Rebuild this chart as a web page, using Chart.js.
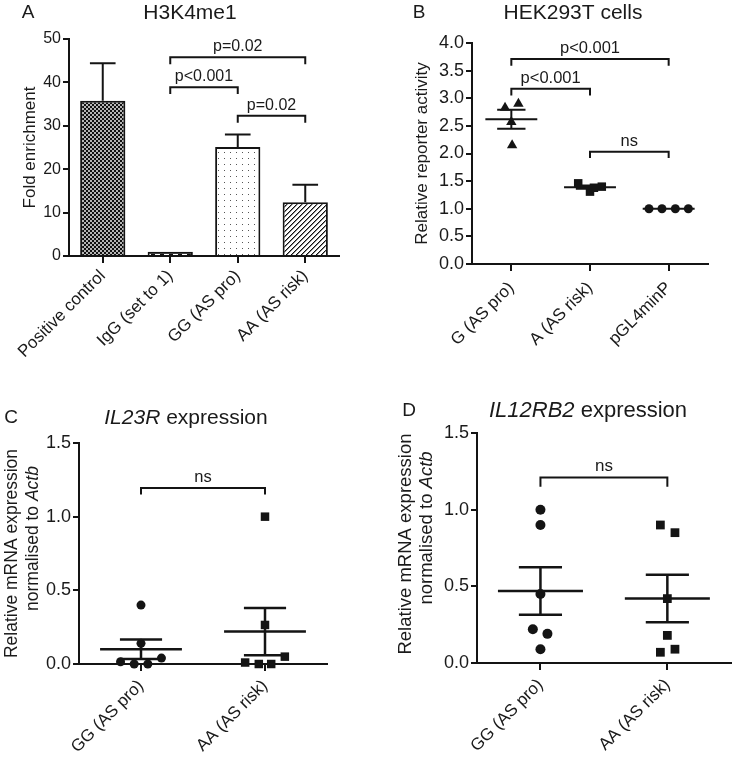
<!DOCTYPE html>
<html>
<head>
<meta charset="utf-8">
<script src="https://cdn.jsdelivr.net/npm/chart.js@4.4.0/dist/chart.umd.min.js"></script>
<style>
  body { margin: 0; background: #fff; }
  #wrap { position: relative; width: 737px; height: 757px; }
  canvas { position: absolute; }
</style>
</head>
<body>
<div id="wrap">
  <canvas id="chartA" width="370" height="380" style="left:0;top:0"></canvas>
  <canvas id="chartB" width="367" height="380" style="left:370px;top:0"></canvas>
  <canvas id="chartC" width="370" height="377" style="left:0;top:380px"></canvas>
  <canvas id="chartD" width="367" height="377" style="left:370px;top:380px"></canvas>
</div>
<script>
// A - H3K4me1 fold enrichment (bars + upper SEM)
var aLabels = ['Positive control', 'IgG (set to 1)', 'GG (AS pro)', 'AA (AS risk)'];
var aValues = [35.8, 1, 25.1, 12.4];
var aSem = [8.6, 0, 2.9, 4.0];
var aTicks = ['0', '10', '20', '30', '40', '50'];
var aBrackets = [[1, 3, 45.8, 44.2, 'p=0.02'], [1, 2, 38.9, 37.3, 'p<0.001'], [2, 3, 32.3, 30.7, 'p=0.02']];

// B - HEK293T reporter activity
var bLabels = ['G (AS pro)', 'A (AS risk)', 'pGL4minP'];
var bG = [2.83, 2.90, 2.57, 2.15];
var bGx = [-0.08, 0.09, 0, 0.01];
var bA = [1.46, 1.31, 1.40, 1.38];
var bAx = [-0.15, 0, 0.15, 0.05];
var bP = [1, 1, 1, 1];
var bPx = [-0.25, -0.085, 0.085, 0.25];
var bMean = [2.62, 1.39, 1.0];
var bSem = [0.17, 0.03, 0];
var bTicks = ['0.0', '0.5', '1.0', '1.5', '2.0', '2.5', '3.0', '3.5', '4.0'];
var bBrackets = [[0, 2, 3.71, 3.59, 'p<0.001'], [0, 1, 3.17, 3.05, 'p<0.001'], [1, 2, 2.03, 1.92, 'ns']];

// C - IL23R expression
var cLabels = ['GG (AS pro)', 'AA (AS risk)'];
var cGG = [0.40, 0.14, 0.015, 0, 0, 0.04];
var cGGx = [0, 0, -0.165, -0.055, 0.055, 0.165];
var cAA = [1.0, 0.265, 0.05, 0.01, 0, 0];
var cAAx = [0, 0, 0.16, -0.16, -0.05, 0.05];
var cMean = [0.10, 0.22];
var cSem = [0.066, 0.16];
var cTicks = ['0.0', '0.5', '1.0', '1.5'];
var cBrackets = [[0, 1, 1.195, 1.15, 'ns']];

// D - IL12RB2 expression
var dLabels = ['GG (AS pro)', 'AA (AS risk)'];
var dGG = [1.0, 0.9, 0.45, 0.22, 0.19, 0.09];
var dGGx = [0, 0, 0, -0.06, 0.055, 0];
var dAA = [0.9, 0.85, 0.42, 0.18, 0.07, 0.09];
var dAAx = [-0.055, 0.06, 0, 0, -0.055, 0.06];
var dMean = [0.47, 0.42];
var dSem = [0.155, 0.155];
var dTicks = ['0.0', '0.5', '1.0', '1.5'];
var dBrackets = [[0, 1, 1.21, 1.15, 'ns']];

Chart.defaults.font.family = '"Liberation Sans", Arial, Helvetica, sans-serif';
Chart.defaults.color = '#1a1a1a';
var ink = '#141414';
var FONT = '"Liberation Sans", Arial, Helvetica, sans-serif';

function pattern(canvasId, w, h, paint) {
  var c = document.createElement('canvas');
  c.width = w; c.height = h;
  paint(c.getContext('2d'));
  return document.getElementById(canvasId).getContext('2d').createPattern(c, 'repeat');
}

function drawRuns(ctx, runs, size, cx, cy, rot) {
  ctx.save();
  ctx.translate(cx, cy);
  ctx.rotate(rot || 0);
  ctx.textBaseline = 'middle';
  ctx.textAlign = 'left';
  var total = 0;
  runs.forEach(function (r) {
    ctx.font = (r[1] ? 'italic ' : '') + size + 'px ' + FONT;
    total += ctx.measureText(r[0]).width;
  });
  var x = -total / 2;
  runs.forEach(function (r) {
    ctx.font = (r[1] ? 'italic ' : '') + size + 'px ' + FONT;
    ctx.fillText(r[0], x, 0);
    x += ctx.measureText(r[0]).width;
  });
  ctx.restore();
}

// letter, title and (for C/D) the two-line y title with italic gene names
var panelText = {
  id: 'panelText',
  afterDraw: function (chart, args, o) {
    var ctx = chart.ctx;
    ctx.fillStyle = '#1a1a1a';
    drawRuns(ctx, [[o.letter, false]], 19, o.letterX, o.titleY);
    drawRuns(ctx, o.title, o.titleSize, o.titleX, o.titleY);
    var mid = (chart.chartArea.top + chart.chartArea.bottom) / 2;
    (o.yTitle || []).forEach(function (line, i) {
      drawRuns(ctx, line, o.yTitleSize, o.yTitleX[i], mid + o.yTitleShift[i], -Math.PI / 2);
    });
  }
};

// mean / SEM lines and significance brackets
var groupMarks = {
  id: 'groupMarks',
  afterDatasetsDraw: function (chart, args, o) {
    var ctx = chart.ctx, xs = chart.scales.x, ys = chart.scales.y;
    var step = xs.getPixelForValue(1) - xs.getPixelForValue(0);
    ctx.save();
    ctx.strokeStyle = ink;
    ctx.lineWidth = o.lineWidth;
    o.means.forEach(function (m, i) {
      var x = xs.getPixelForValue(i);
      var y = ys.getPixelForValue(m);
      var hi = ys.getPixelForValue(m + o.sems[i]);
      var lo = ys.getPixelForValue(o.upperOnly ? m : m - o.sems[i]);
      ctx.beginPath();
      if (o.meanHalf) {
        ctx.moveTo(x - step * o.meanHalf, y);
        ctx.lineTo(x + step * o.meanHalf, y);
      }
      if (o.sems[i] > 0) {
        ctx.moveTo(x, lo);
        ctx.lineTo(x, hi);
        ctx.moveTo(x - step * o.capHalf, hi);
        ctx.lineTo(x + step * o.capHalf, hi);
        if (!o.upperOnly) {
          ctx.moveTo(x - step * o.capHalf, lo);
          ctx.lineTo(x + step * o.capHalf, lo);
        }
      }
      ctx.stroke();
    });
    ctx.lineWidth = 2;
    ctx.fillStyle = '#1a1a1a';
    ctx.font = o.textSize + 'px ' + FONT;
    ctx.textAlign = 'center';
    ctx.textBaseline = 'alphabetic';
    o.brackets.forEach(function (b) {
      var x1 = xs.getPixelForValue(b[0]), x2 = xs.getPixelForValue(b[1]);
      var y = ys.getPixelForValue(b[2]), yEnd = ys.getPixelForValue(b[3]);
      ctx.beginPath();
      ctx.moveTo(x1, yEnd);
      ctx.lineTo(x1, y);
      ctx.lineTo(x2, y);
      ctx.lineTo(x2, yEnd);
      ctx.stroke();
      ctx.fillText(b[4], (x1 + x2) / 2, y - 6);
    });
    ctx.restore();
  }
};

function yAxis(max, tickLabels, width, fontSize, title) {
  return {
    min: 0, max: max,
    afterBuildTicks: function (s) {
      s.ticks = tickLabels.map(function (t) { return { value: parseFloat(t) }; });
    },
    afterFit: function (s) { s.width = width; },
    ticks: { font: { size: fontSize }, padding: 2, callback: function (v, i) { return tickLabels[i]; } },
    grid: { drawOnChartArea: false, color: ink, lineWidth: 2, tickLength: 6 },
    border: { color: ink, width: 2 },
    title: title
  };
}

function xTicks(pad) {
  return { autoSkip: false, minRotation: 45, maxRotation: 45, font: { size: 17 }, padding: pad };
}

function scatterSet(values, offsets, idx, style, radius) {
  return {
    data: values.map(function (v, k) { return { x: idx + offsets[k], y: v }; }),
    pointStyle: style, pointRadius: radius, pointBackgroundColor: ink,
    pointBorderWidth: 0, showLine: false, clip: false
  };
}

function scatterXAxis(labels, height, pad) {
  var t = xTicks(pad);
  t.callback = function (v) { return labels[v]; };
  return {
    type: 'linear', min: -0.5, max: labels.length - 0.5,
    afterBuildTicks: function (s) { s.ticks = labels.map(function (l, i) { return { value: i }; }); },
    afterFit: function (s) { s.height = height; },
    ticks: t,
    grid: { drawOnChartArea: false, color: ink, lineWidth: 2, tickLength: 7 },
    border: { color: ink, width: 2 }
  };
}

var base = { responsive: false, animation: false, devicePixelRatio: 1 };

// ---- A ----
var aFills = [
  pattern('chartA', 4, 4, function (g) {
    g.fillStyle = '#b5b5b5'; g.fillRect(0, 0, 4, 4);
    g.fillStyle = '#111'; g.fillRect(0, 0, 2, 2); g.fillRect(2, 2, 2, 2);
  }),
  pattern('chartA', 9, 2, function (g) {
    g.fillStyle = '#111'; g.fillRect(0, 0, 9, 2);
    g.fillStyle = '#fff'; g.fillRect(2, 0, 5, 1);
  }),
  pattern('chartA', 6, 6, function (g) {
    g.fillStyle = '#fff'; g.fillRect(0, 0, 6, 6);
    g.fillStyle = '#555'; g.fillRect(2, 2, 1, 1);
  }),
  pattern('chartA', 5, 5, function (g) {
    for (var x = 0; x < 5; x++) for (var y = 0; y < 5; y++) {
      var k = (x + y) % 5;
      g.fillStyle = k === 0 ? '#111' : (k === 1 ? '#888' : '#fff');
      g.fillRect(x, y, 1, 1);
    }
  })
];

new Chart(document.getElementById('chartA'), {
  type: 'bar',
  data: {
    labels: aLabels,
    datasets: [{
      data: aValues, backgroundColor: aFills, borderColor: ink, borderWidth: 2,
      categoryPercentage: 1, barPercentage: 0.67, clip: false
    }]
  },
  options: Object.assign({}, base, {
    layout: { padding: { left: 0, top: 39, right: 370 - 339, bottom: 0 } },
    plugins: {
      legend: { display: false }, tooltip: { enabled: false },
      panelText: { letter: 'A', letterX: 28, title: [['H3K4me1', false]], titleSize: 21, titleX: 190, titleY: 13 },
      groupMarks: { means: aValues, sems: aSem, upperOnly: true, meanHalf: 0, capHalf: 0.19, lineWidth: 2, textSize: 16, brackets: aBrackets }
    },
    scales: {
      x: {
        afterFit: function (s) { s.height = 380 - 256; },
        ticks: xTicks(3),
        grid: { offset: false, drawOnChartArea: false, color: ink, lineWidth: 2, tickLength: 7 },
        border: { color: ink, width: 2 }
      },
      y: yAxis(50, aTicks, 69, 16, { display: true, text: 'Fold enrichment', font: { size: 17 }, padding: { top: 20, bottom: 0 } })
    }
  }),
  plugins: [groupMarks, panelText]
});

// ---- B ----
new Chart(document.getElementById('chartB'), {
  type: 'scatter',
  data: {
    datasets: [
      scatterSet(bG, bGx, 0, 'triangle', 6),
      scatterSet(bA, bAx, 1, 'rect', 6),
      scatterSet(bP, bPx, 2, 'circle', 4.5)
    ]
  },
  options: Object.assign({}, base, {
    layout: { padding: { left: 0, top: 43, right: 367 - 338, bottom: 0 } },
    plugins: {
      legend: { display: false }, tooltip: { enabled: false },
      panelText: { letter: 'B', letterX: 49, title: [['HEK293T cells', false]], titleSize: 21, titleX: 203, titleY: 13 },
      groupMarks: { means: bMean, sems: bSem, meanHalf: 0.33, capHalf: 0.18, lineWidth: 2, textSize: 16.5, brackets: bBrackets }
    },
    scales: {
      x: scatterXAxis(bLabels, 380 - 264, 7),
      y: yAxis(4, bTicks, 102, 18, { display: true, text: 'Relative reporter activity', font: { size: 17 }, padding: { top: 42, bottom: 0 } })
    }
  }),
  plugins: [groupMarks, panelText]
});

// ---- C ----
new Chart(document.getElementById('chartC'), {
  type: 'scatter',
  data: {
    datasets: [
      scatterSet(cGG, cGGx, 0, 'circle', 4.5),
      scatterSet(cAA, cAAx, 1, 'rect', 6)
    ]
  },
  options: Object.assign({}, base, {
    layout: { padding: { left: 0, top: 63, right: 370 - 327, bottom: 0 } },
    plugins: {
      legend: { display: false }, tooltip: { enabled: false },
      panelText: {
        letter: 'C', letterX: 11, title: [['IL23R', true], [' expression', false]], titleSize: 21, titleX: 186, titleY: 38,
        yTitle: [[['Relative mRNA expression', false]], [['normalised to ', false], ['Actb', true]]],
        yTitleSize: 17.5, yTitleX: [12, 33], yTitleShift: [0, -15]
      },
      groupMarks: { means: cMean, sems: cSem, meanHalf: 0.33, capHalf: 0.17, lineWidth: 2.5, textSize: 16.5, brackets: cBrackets }
    },
    scales: {
      x: scatterXAxis(cLabels, 377 - 284, 5),
      y: yAxis(1.5, cTicks, 79, 18, { display: false })
    }
  }),
  plugins: [groupMarks, panelText]
});

// ---- D ----
new Chart(document.getElementById('chartD'), {
  type: 'scatter',
  data: {
    datasets: [
      scatterSet(dGG, dGGx, 0, 'circle', 5),
      scatterSet(dAA, dAAx, 1, 'rect', 6.2)
    ]
  },
  options: Object.assign({}, base, {
    layout: { padding: { left: 0, top: 53, right: 367 - 363, bottom: 0 } },
    plugins: {
      legend: { display: false }, tooltip: { enabled: false },
      panelText: {
        letter: 'D', letterX: 39, title: [['IL12RB2', true], [' expression', false]], titleSize: 22, titleX: 218, titleY: 31,
        yTitle: [[['Relative mRNA expression', false]], [['normalised to ', false], ['Actb', true]]],
        yTitleSize: 18.5, yTitleX: [36, 57], yTitleShift: [-4, -20]
      },
      groupMarks: { means: dMean, sems: dSem, meanHalf: 0.335, capHalf: 0.17, lineWidth: 2.5, textSize: 17, brackets: dBrackets }
    },
    scales: {
      x: scatterXAxis(dLabels, 377 - 283, 5),
      y: yAxis(1.5, dTicks, 107, 18, { display: false })
    }
  }),
  plugins: [groupMarks, panelText]
});
</script>
</body>
</html>
